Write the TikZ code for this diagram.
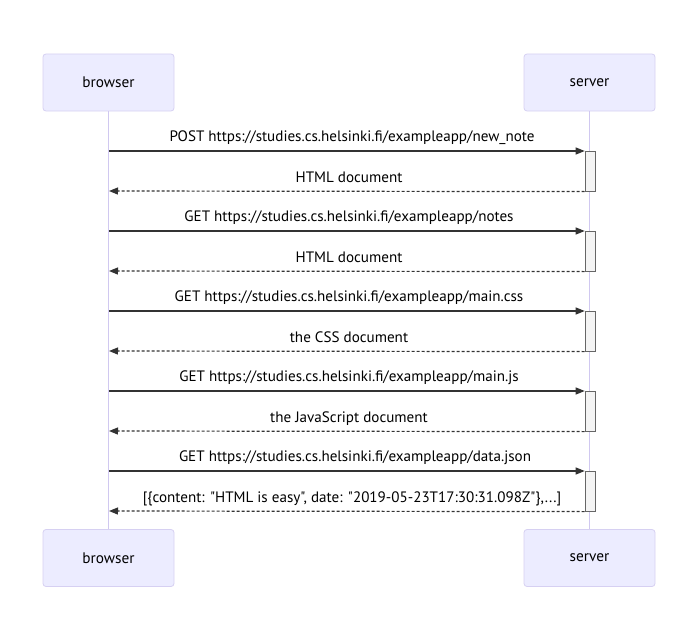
\documentclass[tikz,border=0pt]{standalone}
\usepackage{fontspec}
\newfontfamily\uifont{PT Sans}
\usetikzlibrary{arrows.meta}
\definecolor{actorfill}{HTML}{ECECFF}
\definecolor{actorline}{HTML}{D6D0F2}
\definecolor{lifeline}{HTML}{D0C8F0}
\definecolor{actfill}{HTML}{F4F4F4}
\definecolor{actline}{HTML}{666666}
\definecolor{msgline}{HTML}{333333}
\tikzset{
  actor/.style={draw=actorline, fill=actorfill, rounded corners=3pt, line width=0.8pt,
    minimum width=131pt, minimum height=57pt, inner sep=0pt, font=\uifont\fontsize{15.3}{17}\selectfont},
  life/.style={draw=lifeline, line width=1pt},
  activ/.style={draw=actline, fill=actfill, line width=0.6pt},
  call/.style={draw=msgline, line width=1.2pt, -{Triangle[length=9pt,width=7pt]}},
  reply/.style={draw=msgline, line width=1.2pt, dash pattern=on 3pt off 2pt, -{Triangle[length=9pt,width=7pt]}},
  msg/.style={font=\uifont\fontsize{15.1}{18}\selectfont, inner sep=0pt, anchor=base, text=black}
}
\begin{document}
\begin{tikzpicture}[x=1pt,y=-1pt]
\useasboundingbox (0,0) rectangle (699,642);
% participants
\node[actor] (bt) at (108.5,82.5) {browser};
\node[actor] (st) at (589.5,82.5) {server};
\node[actor] (bb) at (108.5,558) {browser};
\node[actor] (sb) at (589.5,558) {server};
% lifelines
\draw[life] (bt.south) -- (bb.north);
\draw[life] (st.south) -- (sb.north);
% activation bars, one per request
\foreach \y [count=\i] in {151,231,311,391,471} {
  \node[activ, minimum width=10pt, minimum height=40pt, inner sep=0pt, anchor=north] (act\i) at (590,\y) {};
  \coordinate (bq\i) at (109,\y);
  \coordinate (br\i) at (109,\y+40);
}
% requests and responses
\draw[call] (bq1) -- (act1.north west);
\draw[reply] (act1.south west) -- (br1);
\draw[call] (bq2) -- (act2.north west);
\draw[reply] (act2.south west) -- (br2);
\draw[call] (bq3) -- (act3.north west);
\draw[reply] (act3.south west) -- (br3);
\draw[call] (bq4) -- (act4.north west);
\draw[reply] (act4.south west) -- (br4);
\draw[call] (bq5) -- (act5.north west);
\draw[reply] (act5.south west) -- (br5);
% message labels
\node[msg] (m1) at (352,141) {POST https://studies.cs.helsinki.fi/exampleapp/new\_note};
\node[msg] (m2) at (349,182) {HTML document};
\node[msg] (m3) at (349,221) {GET https://studies.cs.helsinki.fi/exampleapp/notes};
\node[msg] (m4) at (349,262) {HTML document};
\node[msg] (m5) at (349,301) {GET https://studies.cs.helsinki.fi/exampleapp/main.css};
\node[msg] (m6) at (349,342) {the CSS document};
\node[msg] (m7) at (349,381) {GET https://studies.cs.helsinki.fi/exampleapp/main.js};
\node[msg] (m8) at (349,422) {the JavaScript document};
\node[msg] (m9) at (355,461) {GET https://studies.cs.helsinki.fi/exampleapp/data.json};
\node[msg] (m10) at (352,502) {[\{content: "HTML is easy", date: "2019-05-23T17:30:31.098Z"\},...]};
\end{tikzpicture}
\end{document}
